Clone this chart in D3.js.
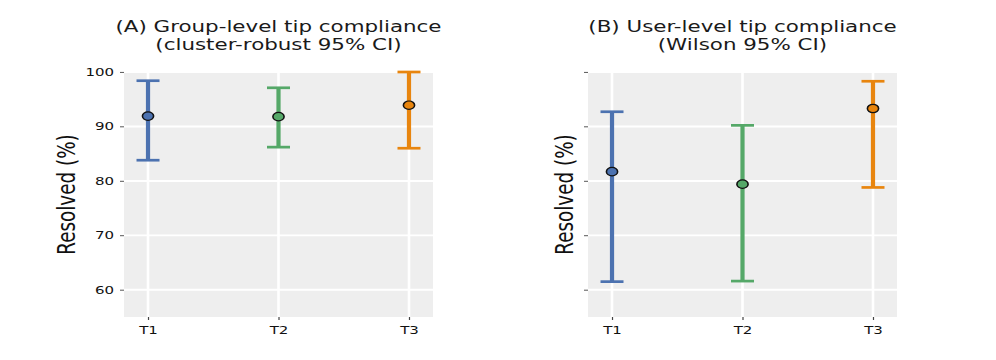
<!DOCTYPE html>
<html>
<head>
<meta charset="utf-8">
<script src="https://cdn.jsdelivr.net/npm/d3@7"></script>
<style>
  body { margin: 0; background: #fff; }
  svg { display: block; font-family: "DejaVu Sans", sans-serif; }
</style>
</head>
<body>
<svg id="chart" width="996" height="360" viewBox="0 0 996 480" preserveAspectRatio="none"></svg>
<script>
  // values
  var cats = ["T1", "T2", "T3"];
  var colors = ["#4c72b0", "#55a868", "#e8850e"];
  var yTicks = [60, 70, 80, 90, 100];

  var groupEst = [91.9, 91.8, 93.9];
  var groupLo = [83.8, 86.2, 86.0];
  var groupHi = [98.4, 97.1, 100.0];

  var userEst = [81.7, 79.4, 93.3];
  var userLo = [61.5, 61.6, 78.8];
  var userHi = [92.7, 90.2, 98.3];

  var panels = [
    { title: ["(A) Group-level tip compliance", "(cluster-robust 95% CI)"],
      est: groupEst, lo: groupLo, hi: groupHi, x0: 124, labelX: 75, showLabels: true },
    { title: ["(B) User-level tip compliance", "(Wilson 95% CI)"],
      est: userEst, lo: userLo, hi: userHi, x0: 588, labelX: 573, showLabels: false }
  ];

  var svg = d3.select("#chart");
  var pw = 309, plotTop = 96, plotBottom = 422.7;

  var y = d3.scaleLinear().domain([55, 100]).range([plotBottom, plotTop]);

  panels.forEach(function(p) {
    var x = d3.scalePoint().domain(cats).range([p.x0, p.x0 + pw]).padding(0.184);
    var g = svg.append("g");

    g.append("rect")
        .attr("x", p.x0).attr("y", plotTop)
        .attr("width", pw).attr("height", plotBottom - plotTop)
        .attr("fill", "#eeeeee");

    // grid
    g.selectAll(".hg").data(yTicks).enter().append("line")
        .attr("x1", p.x0).attr("x2", p.x0 + pw)
        .attr("y1", function(d) { return y(d); })
        .attr("y2", function(d) { return y(d); })
        .attr("stroke", "#fff").attr("stroke-width", 2.6);
    g.selectAll(".vg").data(cats).enter().append("line")
        .attr("x1", function(d) { return x(d); })
        .attr("x2", function(d) { return x(d); })
        .attr("y1", plotTop).attr("y2", plotBottom)
        .attr("stroke", "#fff").attr("stroke-width", 2.6);

    // axes
    var ya = g.append("g")
        .attr("transform", "translate(" + p.x0 + ",0)")
        .call(d3.axisLeft(y).tickValues(yTicks).tickSize(4).tickPadding(6)
          .tickFormat(p.showLabels ? d3.format("d") : function() { return ""; }));
    var xa = g.append("g")
        .attr("transform", "translate(0," + plotBottom + ")")
        .call(d3.axisBottom(x).tickSize(4).tickPadding(8));
    [ya, xa].forEach(function(a) {
      a.select(".domain").remove();
      a.selectAll("line").attr("stroke", "#444").attr("stroke-width", 1.2);
      a.selectAll("text").attr("fill", "#111").attr("font-size", 15)
          .attr("font-family", "DejaVu Sans");
    });

    // error bars
    var bars = g.selectAll(".eb").data(cats).enter().append("g");
    bars.append("line")
        .attr("x1", function(d) { return x(d); })
        .attr("x2", function(d) { return x(d); })
        .attr("y1", function(d, i) { return y(p.lo[i]); })
        .attr("y2", function(d, i) { return y(p.hi[i]); })
        .attr("stroke", function(d, i) { return colors[i]; })
        .attr("stroke-width", 4.2);
    [p.lo, p.hi].forEach(function(arr) {
      bars.append("line")
          .attr("x1", function(d) { return x(d) - 11.5; })
          .attr("x2", function(d) { return x(d) + 11.5; })
          .attr("y1", function(d, i) { return y(arr[i]); })
          .attr("y2", function(d, i) { return y(arr[i]); })
          .attr("stroke", function(d, i) { return colors[i]; })
          .attr("stroke-width", 3.6);
    });
    bars.append("circle")
        .attr("cx", function(d) { return x(d); })
        .attr("cy", function(d, i) { return y(p.est[i]); })
        .attr("r", 5.6)
        .attr("fill", function(d, i) { return colors[i]; })
        .attr("stroke", "#111").attr("stroke-width", 1.6);

    // title
    var cx = p.x0 + pw / 2;
    g.selectAll(".tt").data(p.title).enter().append("text")
        .attr("x", cx)
        .attr("y", function(d, i) { return 42.7 + i * 24; })
        .attr("text-anchor", "middle")
        .attr("font-size", 21.4)
        .attr("fill", "#1a1a1a")
        .text(function(d) { return d; });

    g.append("text")
        .attr("transform", "translate(" + p.labelX + "," + (plotTop + plotBottom) / 2 + ") rotate(-90)")
        .attr("text-anchor", "middle")
        .attr("font-size", 24.5)
        .attr("fill", "#111")
        .text("Resolved (%)");
  });
</script>
</body>
</html>
